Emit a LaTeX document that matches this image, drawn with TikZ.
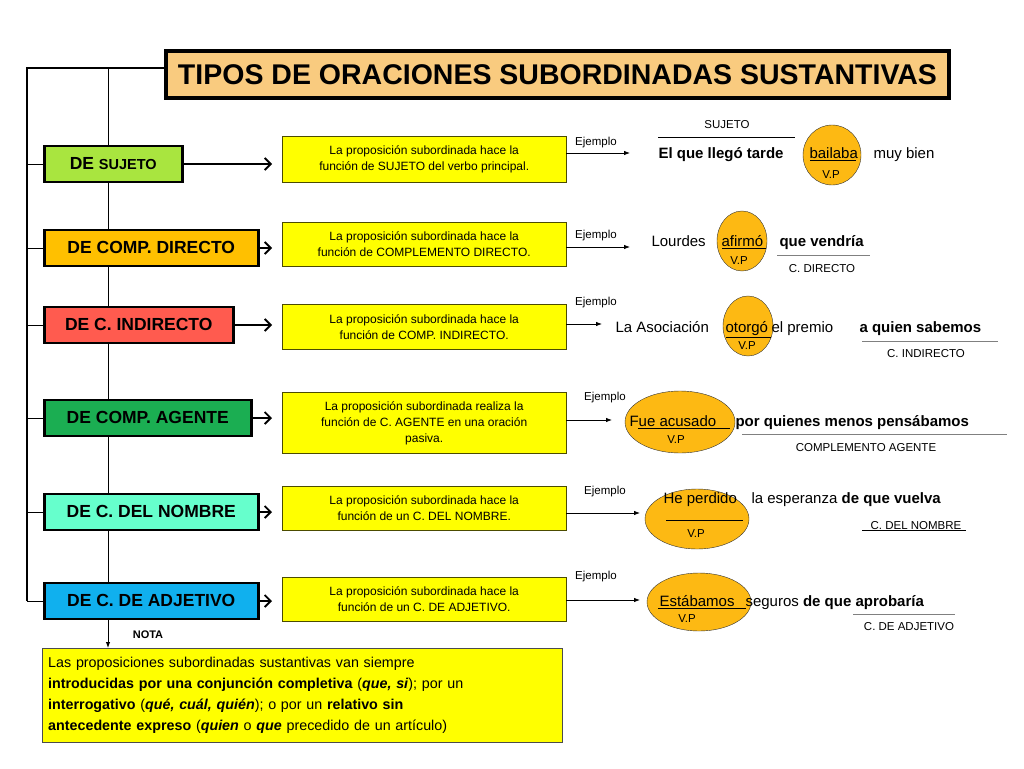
\documentclass[tikz,border=0pt]{standalone}
\usepackage{fontspec}
\setmainfont{Liberation Sans}
\usetikzlibrary{arrows.meta,shapes.geometric}
\definecolor{titlebg}{HTML}{F9CB7F}
\definecolor{ylw}{HTML}{FFFF00}
\definecolor{vp}{HTML}{FDB913}
\definecolor{c1}{HTML}{A9E53F}
\definecolor{c2}{HTML}{FFC000}
\definecolor{c3}{HTML}{FF5B4F}
\definecolor{c4}{HTML}{1BAE52}
\definecolor{c5}{HTML}{66FFCC}
\definecolor{c6}{HTML}{10B0EE}
\begin{document}
\begin{tikzpicture}[x=1pt,y=-1pt,
 cat/.style={draw=black,line width=2.5pt,anchor=west,font=\bfseries\fontsize{17.5}{20}\selectfont,inner sep=0pt,minimum height=36pt,text height=12pt,text depth=2pt},
 desc/.style={draw=black!70!ylw,fill=ylw,anchor=west,minimum width=284pt,align=center,font=\fontsize{12}{16}\selectfont,inner sep=2pt},
 openarr/.style={-{Straight Barb[length=6pt,width=12pt,line width=1.8pt]},line width=2pt},
 ej/.style={-{Latex[length=6pt]},line width=0.8pt},
 ejl/.style={font=\fontsize{11.5}{13}\selectfont},
 oval/.style={ellipse,draw=black!80,fill=vp,inner sep=0pt},
 big/.style={font=\fontsize{15}{17}\selectfont},
 small/.style={font=\fontsize{11.5}{13}\selectfont}]
\useasboundingbox (0,0) rectangle (1024,768);
% title
\node[draw,line width=4pt,fill=titlebg,minimum width=783pt,minimum height=47pt,anchor=north west,font=\bfseries\fontsize{28.5}{30}\selectfont] (title) at (164,49) {TIPOS DE ORACIONES SUBORDINADAS SUSTANTIVAS};
% spine
\coordinate (tl) at (164,68);
\coordinate (top) at (27,68);
\coordinate (bot) at (27,601);
\draw[line width=2.5pt] (tl) -- (top) -- (bot);
\coordinate (t2) at (108,68);
\coordinate (nota) at (108,648);
\draw[line width=1pt,-{Latex[length=6pt]}] (t2) -- (nota);
% categories
\node[cat,fill=c1,minimum width=138pt] (k1) at (43,164) {DE {\fontsize{14.5}{16}\selectfont SUJETO}};
\node[cat,fill=c2,minimum width=214pt] (k2) at (43,248) {DE COMP. DIRECTO};
\node[cat,fill=c3,minimum width=189pt] (k3) at (43,325) {DE C. INDIRECTO};
\node[cat,fill=c4,minimum width=207pt] (k4) at (43,418) {DE COMP. AGENTE};
\node[cat,fill=c5,minimum width=214pt] (k5) at (43,512) {DE C. DEL NOMBRE};
\node[cat,fill=c6,minimum width=214pt] (k6) at (43,601) {DE C. DE ADJETIVO};
\foreach \i/\y in {1/164,2/248,3/325,4/418,5/512,6/601}{
 \coordinate (s\i) at (27,\y);
 \draw[line width=1pt] (s\i) -- (k\i.west);
}
% descriptions
\node[desc,minimum height=46pt] (d1) at (282,159) {La proposición subordinada hace la\\función de SUJETO del verbo principal.};
\node[desc,minimum height=44pt] (d2) at (282,244) {La proposición subordinada hace la\\función de COMPLEMENTO DIRECTO.};
\node[desc,minimum height=45pt] (d3) at (282,327) {La proposición subordinada hace la\\función de COMP. INDIRECTO.};
\node[desc,minimum height=61pt] (d4) at (282,423) {La proposición subordinada realiza la\\función de C. AGENTE en una oración\\pasiva.};
\node[desc,minimum height=44pt] (d5) at (282,508) {La proposición subordinada hace la\\función de un C. DEL NOMBRE.};
\node[desc,minimum height=44pt] (d6) at (282,599) {La proposición subordinada hace la\\función de un C. DE ADJETIVO.};
\foreach \i in {1,...,6}{\draw[openarr] (k\i.east) -- ([xshift=-10pt]d\i.west |- k\i.east);}
% Ejemplo arrows
\coordinate (e1) at (630,153); \coordinate (e2) at (630,247); \coordinate (e3) at (602,324);
\coordinate (e4) at (612,420); \coordinate (e5) at (640,513); \coordinate (e6) at (640,600);
\draw[ej] (d1.east |- e1) -- (e1); \node[ejl] (j1) at (596,143) {Ejemplo};
\draw[ej] (d2.east |- e2) -- (e2); \node[ejl] (j2) at (596,236) {Ejemplo};
\draw[ej] (d3.east |- e3) -- (e3); \node[ejl] (j3) at (596,303) {Ejemplo};
\draw[ej] (d4.east |- e4) -- (e4); \node[ejl] (j4) at (605,398) {Ejemplo};
\draw[ej] (d5.east |- e5) -- (e5); \node[ejl] (j5) at (605,492) {Ejemplo};
\draw[ej] (d6.east |- e6) -- (e6); \node[ejl] (j6) at (596,577) {Ejemplo};
% example 1
\node[oval,minimum width=58pt,minimum height=60pt] (o1) at (832,155) {};
\node[big,anchor=base west] (x1a) at (655,158) {\textbf{El que llegó tarde}};
\node[big,anchor=base west] (x1b) at (806,158) {bailaba};
\node[big,anchor=base west] (x1c) at (870,158) {muy bien};
\draw (x1b.south west)++(4,-1) -- ++(46,0);
\node[small] (vp1) at (831,175) {V.P};
\draw (658,137) -- (795,137);
\node[small] (l1) at (727,125) {SUJETO};
% example 2
\node[oval,minimum width=50pt,minimum height=60pt] (o2) at (742,241) {};
\node[big,anchor=base west] (x2a) at (648,246) {Lourdes};
\node[big,anchor=base west] (x2b) at (718,246) {afirmó};
\node[big,anchor=base west] (x2c) at (776,246) {\textbf{que vendría}};
\draw (x2b.south west)++(4,-1) -- ++(44,0);
\node[small] (vp2) at (739,261) {V.P};
\draw[gray,line width=0.8pt] (777,255) -- (870,255);
\node[small] (l2) at (822,269) {C. DIRECTO};
% example 3
\node[oval,minimum width=50pt,minimum height=60pt] (o3) at (748,326) {};
\node[big,anchor=base west] (x3a) at (612,332) {La Asociación};
\node[big,anchor=base west] (x3b) at (722,332) {otorgó};
\node[big,anchor=base west] (x3c) at (768,332) {el premio};
\node[big,anchor=base west] (x3d) at (856,332) {\textbf{a quien sabemos}};
\draw (x3b.south west)++(4,-1) -- ++(45,0);
\node[small] (vp3) at (747,346) {V.P};
\draw[gray,line width=0.8pt] (862,341) -- (998,341);
\node[small] (l3) at (926,354) {C. INDIRECTO};
% example 4
\node[oval,minimum width=110pt,minimum height=62pt] (o4) at (680,422) {};
\node[big,anchor=base west] (x4a) at (626,426) {Fue acusado};
\node[big,anchor=base west] (x4b) at (732,426) {\textbf{por quienes menos pensábamos}};
\draw (x4a.south west)++(12,-1) -- ++(92,0);
\node[small] (vp4) at (676,440) {V.P};
\draw[gray,line width=0.8pt] (742,434) -- (1007,434);
\node[small] (l4) at (866,448) {COMPLEMENTO AGENTE};
% example 5
\node[oval,minimum width=104pt,minimum height=60pt] (o5) at (697,519) {};
\node[big,anchor=base west] (x5a) at (660,503) {He perdido};
\node[big,anchor=base west] (x5b) at (748,503) {la esperanza \textbf{de que vuelva}};
\draw (666,520) -- (743,520);
\node[small] (vp5) at (696,534) {V.P};
\node[small] (l5) at (916,526) {C. DEL NOMBRE};
\draw (862,530) -- (966,530);
% example 6
\node[oval,minimum width=104pt,minimum height=58pt] (o6) at (699,602) {};
\node[big,anchor=base west] (x6a) at (656,606) {Estábamos};
\node[big,anchor=base west] (x6b) at (742,606) {seguros \textbf{de que aprobaría}};
\draw (x6a.south west)++(2,-1) -- ++(88,0);
\node[small] (vp6) at (687,619) {V.P};
\draw[gray,line width=0.8pt] (853,614) -- (955,614);
\node[small] (l6) at (909,627) {C. DE ADJETIVO};
% nota
\node[font=\bfseries\fontsize{11}{12}\selectfont] (notal) at (148,635) {NOTA};
\node[draw=black!70,fill=ylw,anchor=north west,minimum width=520pt,minimum height=94pt,text width=508pt,align=left,inner sep=6pt,font=\fontsize{14.3}{21}\selectfont] (nb) at (42,648) {Las proposiciones subordinadas sustantivas van siempre\\ \textbf{introducidas por una conjunción completiva} (\textbf{\itshape que, si}); por un\\ \textbf{interrogativo} (\textbf{\itshape qué, cuál, quién}); o por un \textbf{relativo sin}\\ \textbf{antecedente expreso} (\textbf{\itshape quien} o \textbf{\itshape que} precedido de un artículo)};
\end{tikzpicture}
\end{document}
